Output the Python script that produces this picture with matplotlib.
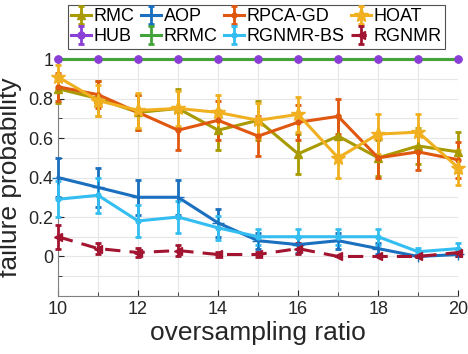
import matplotlib
matplotlib.use("Agg")
import matplotlib.pyplot as plt
import numpy as np
from matplotlib.ticker import MultipleLocator

plt.rcParams['font.family'] = ['Liberation Sans', 'DejaVu Sans']

ratio = [10, 11, 12, 13, 14, 15, 16, 17, 18, 19, 20]

rmc = [0.85, 0.80, 0.73, 0.75, 0.64, 0.69, 0.52, 0.61, 0.50, 0.56, 0.53]
rmc_err = [0.07, 0.09, 0.09, 0.10, 0.10, 0.10, 0.10, 0.10, 0.09, 0.09, 0.10]
aop = [0.40, 0.35, 0.30, 0.30, 0.17, 0.08, 0.06, 0.08, 0.04, 0.00, 0.01]
aop_err = [0.10, 0.10, 0.09, 0.09, 0.07, 0.04, 0.04, 0.04, 0.03, 0.005, 0.01]
rpca = [0.86, 0.82, 0.73, 0.64, 0.69, 0.61, 0.68, 0.71, 0.50, 0.53, 0.49]
rpca_err = [0.07, 0.07, 0.09, 0.10, 0.10, 0.10, 0.09, 0.09, 0.10, 0.09, 0.09]
hoat = [0.91, 0.79, 0.74, 0.75, 0.73, 0.69, 0.72, 0.50, 0.62, 0.63, 0.45]
hoat_err = [0.06, 0.08, 0.09, 0.09, 0.09, 0.09, 0.09, 0.10, 0.10, 0.09, 0.09]
hub = [1, 1, 1, 1, 1, 1, 1, 1, 1, 1, 1]
hub_err = [0, 0, 0, 0, 0, 0, 0, 0, 0, 0, 0]
rrmc = [1, 1, 1, 1, 1, 1, 1, 1, 1, 1, 1]
rrmc_err = [0, 0, 0, 0, 0, 0, 0, 0, 0, 0, 0]
rgbs = [0.29, 0.31, 0.18, 0.20, 0.145, 0.10, 0.10, 0.10, 0.10, 0.024, 0.04]
rgbs_err = [0.09, 0.09, 0.08, 0.08, 0.06, 0.04, 0.04, 0.04, 0.04, 0.02, 0.03]
rgnmr = [0.10, 0.04, 0.02, 0.03, 0.01, 0.01, 0.04, 0.00, 0.00, 0.00, 0.02]
rgnmr_err = [0.06, 0.03, 0.025, 0.03, 0.015, 0.015, 0.03, 0.0, 0.0, 0.005, 0.02]

names = ['RMC', 'AOP', 'RPCA-GD', 'HOAT', 'HUB', 'RRMC', 'RGNMR-BS', 'RGNMR']

fig = plt.figure(figsize=(4.68, 3.54), dpi=100)
ax = fig.add_axes([0.124, 0.164, 0.855, 0.669])

series = [
    (rmc, rmc_err, '#A89A00', '^', '-', 6),
    (aop, aop_err, '#1A6FBF', '+', '-', 8),
    (rpca, rpca_err, '#E0570F', '.', '-', 7),
    (hoat, hoat_err, '#F0B020', '*', '-', 11),
    (hub, hub_err, '#8A3FD6', 'o', '-', 5),
    (rrmc, rrmc_err, '#43A43A', '', '-', 6),
    (rgbs, rgbs_err, '#33BDF0', '.', '-', 7),
    (rgnmr, rgnmr_err, '#A2142F', '<', '--', 6),
]
order = [0, 1, 2, 3, 6, 7, 4, 5]
handles = {}
for i in order:
    y, e, c, m, ls, ms = series[i]
    h = ax.errorbar(ratio, y, yerr=e, color=c, marker=m, ls=ls, lw=2.2,
                    ms=ms, elinewidth=2.0, capsize=2.5, capthick=2.0,
                    clip_on=False, label=names[i], zorder=3 + (1 if i == 5 else 0))
    if ls == '--':
        h[0].set_dashes([5, 3])
    handles[i] = h

ax.plot(ratio, hub, ls='none', marker='o', ms=5, color='#8A3FD6', clip_on=False, zorder=6)

ax.set_xlim(10, 20)
ax.set_ylim(-0.2, 1.0)
ax.set_xticks([10, 12, 14, 16, 18, 20])
ax.xaxis.set_minor_locator(MultipleLocator(1))
ax.set_yticks([0, 0.2, 0.4, 0.6, 0.8, 1.0])
ax.set_yticklabels(['0', '0.2', '0.4', '0.6', '0.8', '1'])
ax.yaxis.set_minor_locator(MultipleLocator(0.1))
ax.grid(True, which='both', color='#e6e6e6', lw=0.8)
ax.set_axisbelow(True)
ax.tick_params(which='both', direction='in', labelsize=13, colors='#262626', length=4)
ax.tick_params(which='minor', length=3)
for s in ['top', 'right']:
    ax.spines[s].set_visible(False)
for s in ['left', 'bottom']:
    ax.spines[s].set_color('#808080')
ax.set_xlabel('oversampling ratio', fontsize=19, color='#262626', labelpad=2)
ax.set_ylabel('failure probability', fontsize=19, color='#262626', labelpad=4)

leg_order = [0, 4, 1, 5, 2, 6, 3, 7]
leg = fig.legend([handles[i] for i in leg_order], [names[i] for i in leg_order],
                 ncol=4, loc='upper center',
                 bbox_to_anchor=(0.548, 0.997), fontsize=13, frameon=True,
                 fancybox=False, edgecolor='#262626', handlelength=1.1,
                 handletextpad=0.15, columnspacing=0.35, borderpad=0.2,
                 labelspacing=0.15, borderaxespad=0.2)
leg.get_frame().set_linewidth(0.8)

fig.savefig('out.png', dpi=100)
